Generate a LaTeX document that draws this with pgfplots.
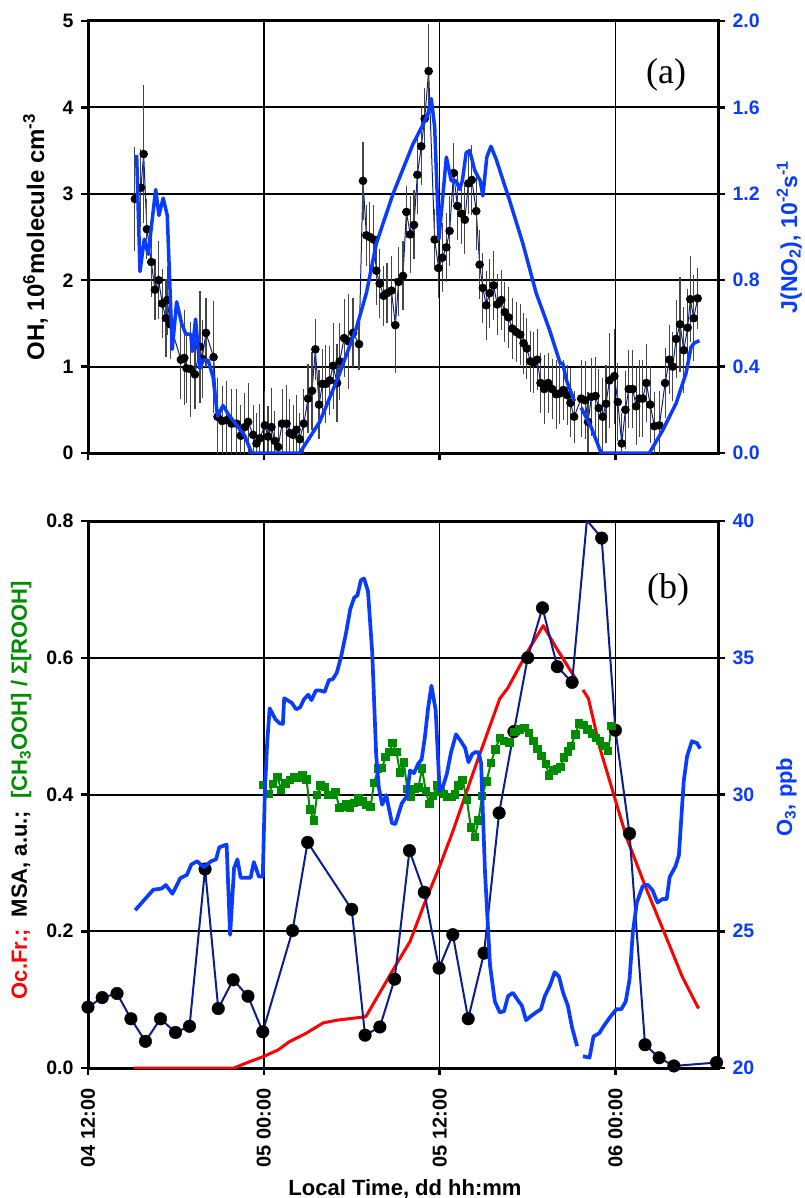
\documentclass[border=0pt]{standalone}
\usepackage{pgfplots}
\pgfplotsset{compat=1.18}
\usepackage{pgfplotstable}
\usepackage{fontspec}
\setmainfont{Liberation Sans}
\newfontfamily\timesfont{Liberation Serif}

\definecolor{jblue}{RGB}{10,60,255}
\definecolor{navyb}{RGB}{10,30,140}
\definecolor{gr}{RGB}{0,140,0}
\definecolor{rd}{RGB}{255,0,0}
\definecolor{errgray}{RGB}{70,70,70}

% hours since 04 12:00
\pgfplotstableread{
h oh err
3.20 2.94 0.60
3.61 3.07 0.45
3.80 3.46 0.80
4.02 2.59 0.35
4.32 2.21 0.40
4.57 1.89 0.35
4.82 2.00 0.45
5.07 1.73 0.40
5.32 1.56 0.45
5.41 1.77 0.40
5.61 1.49 0.40
6.34 1.08 0.45
6.57 1.10 0.55
6.73 0.98 0.40
7.02 0.97 0.55
7.30 0.91 0.40
7.64 1.23 0.65
7.79 1.09 0.45
8.05 1.39 0.40
8.57 1.11 0.65
8.84 0.42 0.45
9.16 0.37 0.40
9.46 0.38 0.45
9.80 0.34 0.40
10.14 0.34 0.40
10.43 0.20 0.35
10.70 0.30 0.40
10.93 0.36 0.45
11.27 0.21 0.35
11.50 0.11 0.35
11.73 0.17 0.40
12.07 0.32 0.40
12.29 0.19 0.35
12.52 0.30 0.45
12.75 0.14 0.35
12.98 0.07 0.30
13.25 0.34 0.40
13.55 0.34 0.45
13.77 0.23 0.40
14.00 0.21 0.35
14.23 0.27 0.40
14.45 0.16 0.30
14.73 0.34 0.40
15.02 0.63 0.40
15.29 0.72 0.45
15.52 1.20 0.35
15.77 0.56 0.40
16.00 0.80 0.40
16.23 0.80 0.45
16.50 0.84 0.40
16.73 1.01 0.50
17.00 0.81 0.45
17.18 1.06 0.45
17.48 1.33 0.45
17.80 1.29 0.55
18.09 1.39 0.40
18.50 1.26 0.30
18.77 3.15 0.45
19.00 2.52 0.35
19.23 2.50 0.40
19.50 2.47 0.40
19.68 2.11 0.40
19.91 1.96 0.40
20.18 1.82 0.35
20.41 1.85 0.35
20.71 1.88 0.40
20.98 1.48 0.55
21.20 1.98 0.40
21.50 2.05 0.40
21.73 2.79 0.30
22.00 2.53 0.45
22.25 2.64 0.40
22.48 3.22 0.45
22.75 3.55 0.45
22.98 3.87 0.35
23.25 4.42 0.55
23.66 2.47 0.35
23.93 2.14 0.35
24.18 2.26 0.40
24.46 2.38 0.40
24.68 2.57 0.40
24.95 3.24 0.35
25.21 2.86 0.40
25.48 2.77 0.35
25.72 2.70 0.40
25.96 3.12 0.35
26.20 3.16 0.40
26.50 2.80 0.45
26.73 2.18 0.40
26.95 1.91 0.40
27.18 1.71 0.40
27.41 1.85 0.40
27.68 1.94 0.40
27.93 1.72 0.35
28.21 1.77 0.35
28.45 1.63 0.35
28.70 1.57 0.35
28.96 1.44 0.35
29.23 1.40 0.35
29.50 1.37 0.35
29.73 1.27 0.35
29.95 1.21 0.35
30.20 1.06 0.35
30.43 1.05 0.35
30.66 1.08 0.35
30.89 0.81 0.35
31.14 0.74 0.40
31.41 0.81 0.35
31.68 0.74 0.35
31.96 0.68 0.40
32.20 0.69 0.35
32.45 0.73 0.35
32.71 0.67 0.35
32.93 0.58 0.40
33.18 0.42 0.30
33.66 0.63 0.45
33.93 0.61 0.45
34.13 0.36 0.35
34.36 0.65 0.45
34.64 0.66 0.45
34.86 0.52 0.45
35.13 0.42 0.45
35.36 0.57 0.45
35.59 0.84 0.55
35.93 0.89 0.55
36.16 0.59 0.45
36.43 0.11 0.35
36.68 0.50 0.45
36.91 0.74 0.45
37.18 0.74 0.45
37.41 0.54 0.45
37.64 0.63 0.45
37.86 0.63 0.45
38.11 0.81 0.45
38.37 0.56 0.45
38.66 0.31 0.40
39.00 0.32 0.40
39.39 0.81 0.40
39.68 1.08 0.40
39.91 1.00 0.40
40.14 1.32 0.45
40.41 1.49 0.55
40.66 1.19 0.50
40.93 1.45 0.45
41.11 1.78 0.50
41.34 1.56 0.50
41.61 1.79 0.35
}\ohdata

\pgfplotstableread{
h j
3.32 1.38
3.55 0.84
3.84 0.99
4.11 0.92
4.62 1.22
4.84 1.10
5.13 1.18
5.41 1.10
5.75 0.48
6.05 0.70
6.39 0.60
6.68 0.55
7.02 0.55
7.11 0.47
7.34 0.62
7.64 0.39
7.86 0.43
8.20 0.43
8.54 0.35
8.84 0.17
9.22 0.22
9.57 0.18
10.25 0.12
10.70 0.08
11.16 0.00
14.45 0.00
15.82 0.145
17.07 0.35
18.32 0.58
19.00 0.74
19.68 0.97
20.82 1.20
22.18 1.43
22.86 1.52
23.20 1.57
23.43 1.64
23.66 1.51
23.95 0.99
24.46 1.37
24.79 1.26
25.13 1.26
25.36 1.22
25.55 1.26
25.81 1.39
26.05 1.40
26.39 1.31
26.61 1.28
26.77 1.26
26.95 1.19
27.22 1.37
27.50 1.42
27.86 1.36
28.77 1.17
29.68 0.97
30.59 0.74
31.50 0.57
32.23 0.415
32.41 0.415
32.64 0.34
33.20 0.24
nan nan
33.66 0.21
34.34 0.12
35.02 0.00
38.32 0.00
39.23 0.106
40.14 0.23
40.82 0.37
41.16 0.49
41.39 0.51
41.73 0.52
}\jdata

\pgfplotstableread{
h v
3.15 0
9.97 0
10.76 0.007
12.00 0.017
13.02 0.027
13.70 0.038
14.90 0.051
16.05 0.066
17.00 0.070
18.96 0.075
20.86 0.145
21.98 0.185
22.88 0.236
24.00 0.295
24.90 0.346
26.47 0.443
28.10 0.540
28.66 0.556
30.00 0.609
31.07 0.647
32.03 0.612
33.38 0.566
nan nan
33.78 0.553
34.16 0.540
34.95 0.467
35.84 0.403
36.74 0.338
38.09 0.263
39.43 0.193
40.55 0.134
41.67 0.087
}\ocdata

\pgfplotstableread{
h v
-0.60 0.065
0.00 0.089
0.97 0.103
1.98 0.109
2.93 0.072
3.92 0.039
4.95 0.072
5.97 0.052
6.93 0.061
7.99 0.291
8.89 0.087
9.91 0.129
10.92 0.105
11.93 0.053
13.96 0.201
14.99 0.330
18.00 0.232
18.91 0.048
19.92 0.060
20.93 0.130
21.94 0.318
22.95 0.257
23.96 0.146
24.90 0.195
25.95 0.072
27.03 0.168
28.06 0.373
29.07 0.492
30.01 0.600
31.02 0.673
32.03 0.587
33.04 0.564
34.05 0.801
35.06 0.775
36.00 0.494
36.96 0.343
38.02 0.034
38.98 0.015
39.99 0.003
42.90 0.008
43.50 0.030
}\msadata

\pgfplotstableread{
h v
11.93 0.414
12.33 0.401
12.63 0.415
12.94 0.426
13.17 0.407
13.48 0.416
13.80 0.421
14.09 0.425
14.38 0.424
14.65 0.428
14.92 0.422
15.14 0.378
15.41 0.362
15.63 0.399
15.88 0.413
16.17 0.411
16.40 0.399
16.67 0.399
16.89 0.404
17.16 0.380
17.43 0.382
17.65 0.386
17.90 0.380
18.17 0.388
18.46 0.394
18.73 0.390
19.00 0.385
19.29 0.382
19.52 0.417
19.81 0.438
20.08 0.439
20.30 0.455
20.57 0.462
20.79 0.475
21.05 0.462
21.30 0.432
21.55 0.447
21.80 0.408
22.05 0.397
22.30 0.408
22.55 0.410
22.80 0.438
23.05 0.405
23.30 0.386
23.55 0.398
23.80 0.413
24.05 0.404
24.30 0.401
24.55 0.396
24.80 0.396
25.05 0.400
25.30 0.413
25.57 0.421
25.86 0.392
26.13 0.352
26.40 0.338
26.65 0.362
26.90 0.398
27.20 0.419
27.50 0.446
27.80 0.466
28.10 0.483
28.40 0.478
28.78 0.476
29.12 0.491
29.45 0.495
29.79 0.497
30.08 0.490
30.42 0.478
30.69 0.467
30.96 0.456
31.25 0.445
31.47 0.428
31.76 0.435
32.03 0.437
32.26 0.440
32.48 0.454
32.75 0.463
32.97 0.471
33.26 0.488
33.53 0.504
33.83 0.502
34.09 0.495
34.39 0.489
34.68 0.483
34.95 0.478
35.22 0.471
35.51 0.464
35.73 0.500
}\grdata

\pgfplotstableread{
h o3
3.22 25.77
4.46 26.52
5.02 26.56
5.31 26.69
5.76 26.37
6.30 26.94
6.75 27.06
7.05 27.44
7.45 27.56
7.90 27.34
8.40 27.56
8.74 27.63
8.96 28.07
9.46 28.17
9.70 24.87
9.97 27.31
10.20 27.63
10.42 26.96
11.10 26.96
11.32 27.53
11.66 27.00
11.93 27.00
12.07 30.07
12.23 31.90
12.40 33.15
12.79 32.75
13.08 32.60
13.30 32.58
13.39 33.52
13.91 33.35
14.20 33.12
14.47 33.18
14.74 33.48
15.03 33.65
15.25 33.45
15.55 33.80
15.86 33.80
16.15 33.75
16.44 34.18
16.71 34.22
16.98 34.45
17.27 35.03
17.61 35.90
17.90 36.78
18.17 37.20
18.39 37.28
18.62 37.83
18.84 37.90
19.11 37.43
19.40 35.18
19.67 31.43
19.85 30.25
20.08 29.63
20.35 29.98
20.75 28.95
20.98 28.92
21.42 29.68
21.76 29.93
21.98 30.88
22.25 30.78
22.54 31.13
22.77 31.28
22.99 32.08
23.21 33.15
23.44 33.98
23.73 33.08
24.00 30.13
24.22 30.28
24.49 30.75
24.78 31.55
25.12 32.20
25.45 31.95
25.74 31.70
25.97 31.18
26.23 31.48
26.45 31.55
26.65 31.55
26.83 31.15
27.10 27.13
27.44 23.75
27.77 22.43
28.11 22.03
28.40 22.08
28.67 22.63
29.00 22.75
29.34 22.48
29.61 22.28
29.90 21.75
30.19 21.88
30.57 22.03
30.91 22.15
31.18 22.63
31.54 23.03
31.85 23.50
32.14 23.35
32.43 22.75
32.75 22.28
33.04 21.48
33.38 20.80
nan nan
33.78 20.43
34.23 20.38
34.50 21.15
34.90 21.28
35.22 21.55
35.66 21.88
36.07 22.15
36.40 22.15
36.70 22.43
36.96 23.23
37.19 24.98
37.46 26.05
37.86 26.65
38.20 26.70
38.53 26.50
38.87 26.05
39.21 26.18
39.50 26.18
39.70 26.98
40.10 27.38
40.33 27.78
40.66 30.48
40.89 31.40
41.22 31.95
41.56 31.88
41.78 31.68
}\othree

\pgfplotsset{
  panel/.style={
    anchor=south west,
    scale only axis,
    width=630pt,
    xmin=0, xmax=43,
    xtick={0,12,24,36},
    tick align=outside,
    major tick length=7pt,
    major tick style={black, line width=2.5pt},
    axis line style={line width=3pt},
    tick label style={font=\fontsize{19.5}{19.5}\selectfont\bfseries},
    yticklabel shift=4pt,
    /pgf/number format/assume math mode=true,
  },
  gridded/.style={
    xmajorgrids, ymajorgrids,
    x grid style={black, line width=1.5pt},
    y grid style={black, line width=2pt},
    xtick pos=left, ytick pos=left,
  },
  onedec/.style={
    yticklabel style={/pgf/number format/fixed,
      /pgf/number format/fixed zerofill,
      /pgf/number format/precision=1},
  },
}

\begin{document}
\begin{tikzpicture}
\path[use as bounding box] (0pt,0pt) rectangle (804pt,-1198pt);

% ---------- panel (a)
\begin{axis}[panel, gridded, at={(88pt,-453pt)}, height=432pt,
    ymin=0, ymax=5, ytick={0,1,2,3,4,5},
    xticklabels={}]
  \addplot[navyb, line width=1pt, mark=*, mark size=3.8pt,
      mark options={black, fill=black},
      error bars/.cd, y dir=both, y explicit, error mark=none,
      error bar style={errgray, line width=1.2pt}]
    table[x=h, y=oh, y error=err] {\ohdata};
\end{axis}

\begin{axis}[panel, at={(88pt,-453pt)}, height=432pt,
    ymin=0, ymax=2, ytick={0,0.4,0.8,1.2,1.6,2},
    axis x line=none, axis y line*=right, onedec,
    yticklabel style={text=jblue}]
  \addplot[jblue, line width=3.5pt, line join=round, unbounded coords=jump]
    table[x=h, y=j] {\jdata};
\end{axis}

% ---------- panel (b)
\begin{axis}[panel, gridded, at={(88pt,-1068pt)}, height=547pt,
    ymin=0, ymax=0.8, ytick={0,0.2,0.4,0.6,0.8}, onedec,
    xticklabels={04 12:00,05 00:00,05 12:00,06 00:00},
    xticklabel shift=10pt,
    x tick label style={rotate=90, anchor=east, font=\fontsize{20}{20}\selectfont\bfseries}]
  \addplot[rd, line width=3pt, line join=round, unbounded coords=jump]
    table[x=h, y=v] {\ocdata};
  \addplot[navyb, line width=2pt] table[x=h, y=v] {\msadata};
  \addplot[only marks, mark=*, mark size=6.3pt, black,
      restrict x to domain=0:43] table[x=h, y=v] {\msadata};
  \addplot[gr, line width=2pt, mark=square*, mark size=3.2pt,
      mark options={gr}] table[x=h, y=v] {\grdata};
\end{axis}

\begin{axis}[panel, at={(88pt,-1068pt)}, height=547pt,
    ymin=20, ymax=40, ytick={20,25,30,35,40},
    axis x line=none, axis y line*=right,
    yticklabel style={text=jblue}]
  \addplot[jblue, line width=3.7pt, line join=round, unbounded coords=jump]
    table[x=h, y=o3] {\othree};
\end{axis}

% ---------- labels
\node[rotate=90, anchor=base, font=\fontsize{24}{24}\selectfont\bfseries]
  at (44pt,-237pt) {OH, 10\textsuperscript{6}molecule cm\textsuperscript{-3}};
\node[rotate=90, anchor=base, text=jblue, font=\fontsize{23}{23}\selectfont\bfseries]
  at (797pt,-237pt) {J(NO\textsubscript{2}), 10\textsuperscript{-2}s\textsuperscript{-1}};
\node[rotate=90, anchor=base, font=\fontsize{22}{22}\selectfont\bfseries]
  at (27pt,-790pt) {\textcolor{rd}{Oc.Fr.;}\ \ MSA, a.u.;\ \ \textcolor{gr}{[CH\textsubscript{3}OOH] / Σ[ROOH]}};
\node[rotate=90, anchor=base, text=jblue, font=\fontsize{22}{22}\selectfont\bfseries]
  at (792pt,-797pt) {O\textsubscript{3}, ppb};
\node[anchor=base, font=\fontsize{22}{22}\selectfont\bfseries]
  at (405pt,-1195pt) {Local Time, dd hh:mm};
\node[font=\timesfont\fontsize{36}{36}\selectfont] at (666pt,-75pt) {(a)};
\node[font=\timesfont\fontsize{36}{36}\selectfont] at (668pt,-590pt) {(b)};
\end{tikzpicture}
\end{document}
